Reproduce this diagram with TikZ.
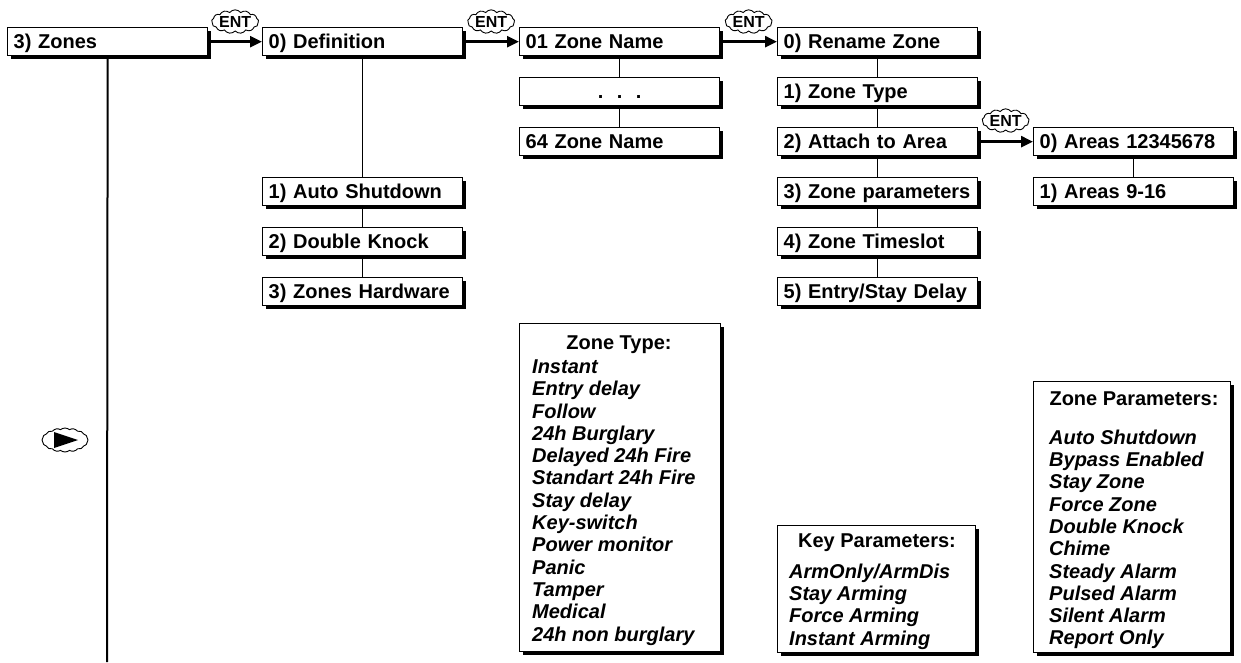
\documentclass[tikz,border=0pt]{standalone}
\usepackage{fontspec}
\setmainfont{Liberation Sans}
\usetikzlibrary{shadows,shapes.symbols,arrows.meta}
\begin{document}
\begin{tikzpicture}[x=1pt,y=-1pt,
  shad/.style={drop shadow={shadow xshift=3pt,shadow yshift=-3pt,fill=black,opacity=1}},
  box/.style={draw,fill=white,line width=1.3pt,anchor=north west,minimum width=200pt,minimum height=28pt,
    inner xsep=6pt,inner ysep=0pt,text width=188pt,align=left,text height=14pt,text depth=0pt,
    font=\bfseries\fontsize{20}{22}\selectfont,shad},
  bigbox/.style={draw,fill=white,line width=1.3pt,anchor=north west,inner sep=0pt,shad},
  ttl/.style={inner sep=0pt,anchor=base,font=\bfseries\fontsize{20}{22}\selectfont},
  lst/.style={inner sep=0pt,anchor=north west,align=left,font=\bfseries\itshape\fontsize{20}{22.3}\selectfont},
  link/.style={line width=1.4pt},
  zline/.style={line width=2pt},
  arr/.style={line width=2.6pt,-{Triangle[length=12pt,width=11pt]}},
  ent/.style={cloud,cloud puffs=13,cloud puff arc=105,aspect=2.4,draw,line width=0.9pt,fill=white,
    inner sep=0pt,minimum width=47pt,minimum height=21pt,font=\bfseries\fontsize{16}{16}\selectfont}]
\useasboundingbox (0,0) rectangle (1241,662);

% column 1
\node[box] (zones) at (7,27) {3) Zones};
\coordinate (zend) at (107,662);
\draw[zline] (zones.south) -- (zend);

% column 2
\node[box] (def) at (262,27) {0) Definition};
\node[box] (ash) at (262,177) {1) Auto Shutdown};
\node[box] (dkn) at (262,227) {2) Double Knock};
\node[box] (zhw) at (262,277) {3) Zones Hardware};

% column 3
\node[box] (zn1) at (519,27) {01 Zone Name};
\node[box,align=center] (dots) at (519,77) {.\ \ .\ \ .};
\node[box] (zn64) at (519,127) {64 Zone Name};

% column 4
\node[box] (ren) at (777,27) {0) Rename Zone};
\node[box] (ztp) at (777,77) {1) Zone Type};
\node[box] (att) at (777,127) {2) Attach to Area};
\node[box] (zpr) at (777,177) {3) Zone parameters};
\node[box] (zts) at (777,227) {4) Zone Timeslot};
\node[box] (esd) at (777,277) {5) Entry/Stay Delay};

% column 5
\node[box] (ar1) at (1033,127) {0) Areas 12345678};
\node[box] (ar2) at (1033,177) {1) Areas 9-16};

% vertical links
\draw[link] (def.south) -- (ash.north);
\draw[link] (ash.south) -- (dkn.north);
\draw[link] (dkn.south) -- (zhw.north);
\draw[link] (zn1.south) -- (dots.north);
\draw[link] (dots.south) -- (zn64.north);
\draw[link] (ren.south) -- (ztp.north);
\draw[link] (ztp.south) -- (att.north);
\draw[link] (att.south) -- (zpr.north);
\draw[link] (zpr.south) -- (zts.north);
\draw[link] (zts.south) -- (esd.north);
\draw[link] (ar1.south) -- (ar2.north);

% ENT arrows
\draw[arr] (zones.east) -- node[ent,yshift=20pt] (e1) {ENT} (def.west);
\draw[arr] (def.east) -- node[ent,yshift=20pt] (e2) {ENT} (zn1.west);
\draw[arr] (zn1.east) -- node[ent,yshift=20pt] (e3) {ENT} (ren.west);
\draw[arr] (att.east) -- node[ent,yshift=21pt] (e4) {ENT} (ar1.west);

% right key icon
\node[cloud,cloud puffs=16,cloud puff arc=80,aspect=1.9,draw,line width=0.9pt,inner sep=0pt,
  minimum width=46pt,minimum height=24pt] (rk) at (65,440) {};
\fill[shift={(rk.center)}] (-11,-8) -- (13,0) -- (-11,8) -- cycle;

% Zone Type box
\node[bigbox,minimum width=201pt,minimum height=328pt] (ztb) at (519,323) {};
\node[ttl] (ztt) at (619,349) {Zone Type:};
\node[lst] (ztl) at (532,359.5) {Instant\\Entry delay\\Follow\\24h Burglary\\Delayed 24h Fire\\Standart 24h Fire\\Stay delay\\Key-switch\\Power monitor\\Panic\\Tamper\\Medical\\24h non burglary};

% Key Parameters box
\node[bigbox,minimum width=198pt,minimum height=127pt] (kpb) at (777,525) {};
\node[ttl] (kpt) at (877,547) {Key Parameters:};
\node[lst] (kpl) at (789,563.5) {ArmOnly/ArmDis\\Stay Arming\\Force Arming\\Instant Arming};

% Zone Parameters box
\node[bigbox,minimum width=197pt,minimum height=271pt] (zpb) at (1033,381) {};
\node[ttl] (zpt) at (1134,405) {Zone Parameters:};
\node[lst] (zpl) at (1049,429.5) {Auto Shutdown\\Bypass Enabled\\Stay Zone\\Force Zone\\Double Knock\\Chime\\Steady Alarm\\Pulsed Alarm\\Silent Alarm\\Report Only};
\end{tikzpicture}
\end{document}
